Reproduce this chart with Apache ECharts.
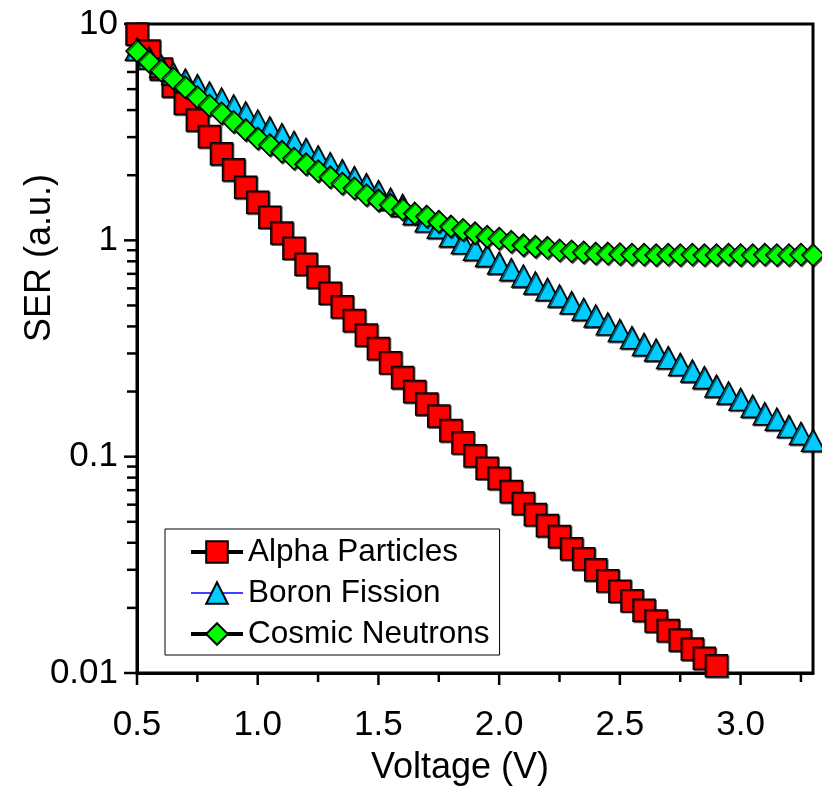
<!DOCTYPE html>
<html><head><meta charset="utf-8">
<script src="https://cdn.jsdelivr.net/npm/echarts@6/dist/echarts.min.js"></script>
<style>html,body{margin:0;padding:0;background:#fff}#c{width:822px;height:792px}</style>
</head><body><div id="c"></div>
<script>
const voltage = [0.50,0.55,0.60,0.65,0.70,0.75,0.80,0.85,0.90,0.95,1.00,1.05,1.10,1.15,1.20,1.25,1.30,1.35,1.40,1.45,1.50,1.55,1.60,1.65,1.70,1.75,1.80,1.85,1.90,1.95,2.00,2.05,2.10,2.15,2.20,2.25,2.30,2.35,2.40,2.45,2.50,2.55,2.60,2.65,2.70,2.75,2.80,2.85,2.90,2.95,3.00,3.05,3.10,3.15,3.20,3.25,3.30];
const alpha = [9.0,7.5,6.2,5.17,4.30,3.60,3.02,2.51,2.12,1.76,1.50,1.28,1.08,0.92,0.776,0.676,0.570,0.493,0.426,0.365,0.316,0.272,0.232,0.200,0.175,0.154,0.132,0.116,0.101,0.0885,0.0794,0.069,0.0608,0.054,0.048,0.0427,0.0375,0.0337,0.030,0.0267,0.0239,0.0216,0.0195,0.0174,0.0157,0.0142,0.0129,0.0117,0.0108];
const boron = [7.65,6.97,6.4,5.9,5.5,5.19,4.8,4.5,4.18,3.88,3.56,3.31,3.08,2.84,2.63,2.43,2.26,2.10,1.95,1.81,1.68,1.55,1.45,1.33,1.23,1.15,1.05,0.976,0.91,0.85,0.785,0.733,0.684,0.635,0.593,0.553,0.515,0.480,0.447,0.411,0.383,0.355,0.330,0.311,0.287,0.267,0.249,0.232,0.212,0.197,0.184,0.171,0.158,0.149,0.138,0.128,0.119];
const cosmic = [7.5,6.7,6.1,5.6,5.1,4.6,4.2,3.87,3.53,3.24,2.96,2.76,2.57,2.39,2.25,2.09,1.96,1.83,1.74,1.62,1.53,1.46,1.39,1.33,1.29,1.22,1.16,1.12,1.08,1.04,1.02,0.986,0.95,0.935,0.925,0.90,0.89,0.88,0.87,0.87,0.865,0.86,0.86,0.855,0.86,0.855,0.86,0.855,0.855,0.86,0.855,0.855,0.86,0.855,0.855,0.86,0.855];
const seriesNames = ['Alpha Particles','Boron Fission','Cosmic Neutrons'];
const xMajorTicks = [0.5,1.0,1.5,2.0,2.5,3.0];
const xMinorTicks = [0.75,1.25,1.75,2.25,2.75,3.25];
const yMajorTicks = [0.01,0.1,1,10];
const yMinorTicks = [0.02,0.03,0.04,0.05,0.06,0.07,0.08,0.09,0.2,0.3,0.4,0.5,0.6,0.7,0.8,0.9,2,3,4,5,6,7,8,9];
const X_MIN = 0.5, X_MAX = 3.3, Y_MIN = 0.01, Y_MAX = 10;
const xTitle = 'Voltage (V)';
const yTitle = 'SER (a.u.)';

const FONT = '"Liberation Sans", Arial, sans-serif';
const chart = echarts.init(document.getElementById('c'), null, {renderer: 'canvas'});

function pairs(vals) { return vals.map((v, i) => [voltage[i], v]); }

function tickSeries(values, axis, len) {
  return {
    type: 'custom', silent: true, clip: false, z: 1,
    data: values.map(v => axis === 'x' ? [v, Y_MIN] : [X_MIN, v]),
    renderItem: function (params, api) {
      const p = api.coord([api.value(0), api.value(1)]);
      const shape = axis === 'x'
        ? {x1: p[0], y1: p[1], x2: p[0], y2: p[1] + len}
        : {x1: p[0] - len, y1: p[1], x2: p[0], y2: p[1]};
      return {type: 'line', shape: shape, style: {stroke: '#000', lineWidth: 2.5}};
    }
  };
}

const shadow = {shadowColor: 'rgba(0,0,0,0.55)', shadowOffsetX: 1.2, shadowOffsetY: 1.2, shadowBlur: 0};

chart.setOption({
  animation: false,
  backgroundColor: '#fff',
  grid: {left: 137, right: 9, top: 24, bottom: 119, show: true, borderColor: '#000', borderWidth: 3, backgroundColor: 'transparent'},
  xAxis: {
    type: 'value', min: X_MIN, max: X_MAX, interval: 0.5,
    axisLine: {show: true, lineStyle: {color: '#000', width: 3}},
    axisTick: {show: false}, splitLine: {show: false},
    axisLabel: {show: true, showMaxLabel: false, margin: 35, color: '#000', fontSize: 35, fontFamily: FONT,
      formatter: v => v.toFixed(1)}
  },
  yAxis: {
    type: 'log', logBase: 10, min: Y_MIN, max: Y_MAX,
    axisLine: {show: true, lineStyle: {color: '#000', width: 3}},
    axisTick: {show: false}, splitLine: {show: false}, minorTick: {show: false},
    axisLabel: {show: true, margin: 19, color: '#000', fontSize: 35, fontFamily: FONT,
      formatter: v => String(v)}
  },
  legend: {
    data: [
      {name: seriesNames[0], lineStyle: {width: 4, color: '#000'}},
      {name: seriesNames[1], lineStyle: {width: 1.5, color: '#0000FF'}},
      {name: seriesNames[2], lineStyle: {width: 4, color: '#000'}}
    ],
    orient: 'vertical', left: 165, top: 529,
    backgroundColor: '#fff', borderColor: '#000', borderWidth: 1,
    padding: [7, 10, 5, 24], itemGap: 9, itemWidth: 52, itemHeight: 27,
    textStyle: {color: '#000', fontSize: 31.5, fontFamily: FONT},
    selectedMode: false
  },
  graphic: [
    {type: 'text', x: 460, y: 768, silent: true,
      style: {text: xTitle, font: '36px ' + FONT, fill: '#000', textAlign: 'center', textVerticalAlign: 'middle'}},
    {type: 'text', x: 40, y: 258, rotation: Math.PI / 2, silent: true,
      style: {text: yTitle, font: '36px ' + FONT, fill: '#000', textAlign: 'center', textVerticalAlign: 'middle'}}
  ],
  series: [
    {name: seriesNames[0], type: 'line', data: pairs(alpha), symbol: 'rect', symbolSize: 22, clip: false, z: 3,
      itemStyle: Object.assign({color: '#FF0000', borderColor: '#000', borderWidth: 1.5}, shadow),
      lineStyle: {color: '#000', width: 4}},
    {name: seriesNames[1], type: 'line', data: pairs(boron), symbol: 'triangle', symbolSize: [23, 22], clip: false, z: 4,
      itemStyle: Object.assign({color: '#00CCFF', borderColor: '#000', borderWidth: 1.5}, shadow),
      lineStyle: {color: '#0000FF', width: 1.5}},
    {name: seriesNames[2], type: 'line', data: pairs(cosmic), symbol: 'diamond', symbolSize: 22, clip: false, z: 5,
      itemStyle: Object.assign({color: '#00FF00', borderColor: '#000', borderWidth: 1.5}, shadow),
      lineStyle: {color: '#000', width: 4}},
    tickSeries(xMajorTicks, 'x', 12),
    tickSeries(xMinorTicks, 'x', 9),
    tickSeries(yMajorTicks, 'y', 13),
    tickSeries(yMinorTicks, 'y', 10)
  ]
});
</script></body></html>
